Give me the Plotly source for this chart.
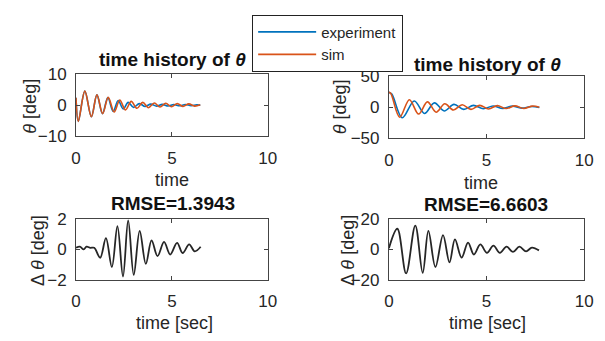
import plotly.graph_objects as go

# ---------------- data ----------------
# top-left: theta time history (experiment / sim), extrema samples
t_exp_L = [0, 0.12, 0.46, 0.80, 1.09, 1.38, 1.66, 1.94, 2.2, 2.46, 2.72, 3.0, 3.3, 3.6,
           3.9, 4.2, 4.5, 4.8, 5.1, 5.4, 5.7, 6.0, 6.3, 6.48]
v_exp_L = [2.4, -5.2, 4.5, -3.7, 3.3, -2.7, 2.4, -2.0, 1.5, -1.2, 0.9, -0.7, 0.5, -0.4,
           0.35, -0.3, 0.25, -0.25, 0.2, -0.2, 0.2, -0.15, 0.1, 0.0]
t_sim_L = [0, 0.12, 0.46, 0.80, 1.09, 1.39, 1.68, 1.99, 2.28, 2.58, 2.88, 3.18, 3.48,
           3.78, 4.08, 4.38, 4.68, 4.98, 5.28, 5.58, 5.88, 6.18, 6.48]
v_sim_L = [2.4, -5.2, 4.5, -3.7, 3.3, -2.7, 2.5, -2.2, 1.6, -1.5, 1.2, -1.0, 0.9,
           -0.8, 0.7, -0.6, 0.6, -0.5, 0.5, -0.4, 0.4, -0.3, 0.1]

# top-right: theta time history (experiment / sim)
t_exp_R = [0, 0.15, 0.68, 1.3, 1.82, 2.33, 2.83, 3.33, 3.83, 4.33, 4.83, 5.33, 5.83,
           6.33, 6.83, 7.3, 7.7]
v_exp_R = [24, 21, -17, 10, -10, 7, -6, 4.5, -3.5, 3, -2.5, 2, -2, 1.8, -1.5, 1.2, -0.5]
t_sim_R = [0, 0.1, 0.55, 1.05, 1.52, 1.97, 2.42, 2.86, 3.3, 3.75, 4.2, 4.65, 5.1, 5.55,
           6.0, 6.45, 6.9, 7.35, 7.7]
v_sim_R = [24, 22, -16, 12, -11, 8.5, -8, 5.5, -4.5, 4, -3.5, 3, -2.8, 2.5, -2.2, 2.2,
           -2, 1.8, 0]

# bottom-left: delta theta
t_d_L = [0, 0.2, 0.4, 0.55, 0.75, 0.95, 1.26, 1.56, 1.87, 2.16, 2.45, 2.72, 3.01, 3.32,
         3.64, 3.94, 4.25, 4.59, 4.91, 5.27, 5.56, 5.9, 6.19, 6.5]
v_d_L = [0.1, 0.17, 0.0, 0.17, 0.1, 0.1, -0.55, 0.73, -1.16, 1.51, -1.77, 1.88, -1.67,
         1.2, -0.95, 0.58, -0.44, 0.48, -0.34, 0.42, -0.24, 0.32, -0.13, 0.17]

# bottom-right: delta theta
t_d_R = [0, 0.43, 0.88, 1.35, 1.73, 2.02, 2.38, 2.77, 3.1, 3.38, 3.72, 4.05, 4.35, 4.68,
         5.02, 5.35, 5.68, 6.02, 6.35, 6.68, 7.02, 7.32, 7.68]
v_d_R = [0.7, 13.4, -15.7, 15.5, -15.3, 12, -11.6, 9.3, -8.5, 6.5, -5.4, 4.4, -3.4, 3.2,
         -2.3, 2.4, -2.3, 1.7, -1.7, 1.7, -1.3, 1.1, -0.7]

x_ticks = [0, 5, 10]
titles_top = ["time history of <i>θ</i>", "time history of <i>θ</i>"]
titles_bottom = ["RMSE=1.3943", "RMSE=6.6603"]

# ---------------- styling ----------------
BLUE = "#0072BD"
ORANGE = "#D95319"
DARK = "#262626"
FONT = "Liberation Sans, Arial, sans-serif"
W, H = 605, 341


def dx(p0, p1):
    return [p0 / W, p1 / W]


def dy(top, bottom):
    return [1 - bottom / H, 1 - top / H]


fig = go.Figure()

fig.add_trace(go.Scatter(x=t_exp_L, y=v_exp_L, mode="lines", name="experiment",
                         line=dict(color=BLUE, width=1.6, shape="spline"),
                         xaxis="x", yaxis="y", showlegend=True))
fig.add_trace(go.Scatter(x=t_sim_L, y=v_sim_L, mode="lines", name="sim",
                         line=dict(color=ORANGE, width=1.6, shape="spline"),
                         xaxis="x", yaxis="y", showlegend=True))
fig.add_trace(go.Scatter(x=t_exp_R, y=v_exp_R, mode="lines", name="experiment",
                         line=dict(color=BLUE, width=1.6, shape="spline"),
                         xaxis="x2", yaxis="y2", showlegend=False))
fig.add_trace(go.Scatter(x=t_sim_R, y=v_sim_R, mode="lines", name="sim",
                         line=dict(color=ORANGE, width=1.6, shape="spline"),
                         xaxis="x2", yaxis="y2", showlegend=False))
fig.add_trace(go.Scatter(x=t_d_L, y=v_d_L, mode="lines", name="delta",
                         line=dict(color=DARK, width=1.8, shape="spline"),
                         xaxis="x3", yaxis="y3", showlegend=False))
fig.add_trace(go.Scatter(x=t_d_R, y=v_d_R, mode="lines", name="delta",
                         line=dict(color=DARK, width=1.8, shape="spline"),
                         xaxis="x4", yaxis="y4", showlegend=False))

axis_common = dict(showline=True, linecolor="#444", linewidth=1, mirror="ticks",
                   ticks="inside", ticklen=4, tickcolor="#444", showgrid=False,
                   zeroline=False, tickfont=dict(family=FONT, size=17, color=DARK))

xdom_L = dx(72.7, 269)
xdom_R = dx(393, 593)

fig.update_layout(
    width=W, height=H, margin=dict(l=0, r=0, t=0, b=0),
    paper_bgcolor="white", plot_bgcolor="white",
    font=dict(family=FONT, color=DARK),
    xaxis=dict(domain=xdom_L, anchor="y", range=[0, 10], tickvals=x_ticks,
               ticklabelstandoff=6, **axis_common),
    yaxis=dict(domain=dy(68.7, 135), anchor="x", range=[-10, 10], tickvals=[-10, 0, 10],
               ticklabelstandoff=5, **axis_common),
    xaxis2=dict(domain=xdom_R, anchor="y2", range=[0, 10], tickvals=x_ticks,
                ticklabelstandoff=6, **axis_common),
    yaxis2=dict(domain=dy(71, 137), anchor="x2", range=[-50, 50], tickvals=[-50, 0, 50],
                ticklabelstandoff=5, **axis_common),
    xaxis3=dict(domain=xdom_L, anchor="y3", range=[0, 10], tickvals=x_ticks,
                ticklabelstandoff=6, **axis_common),
    yaxis3=dict(domain=dy(222, 287), anchor="x3", range=[-2, 2], tickvals=[-2, 0, 2],
                ticklabelstandoff=5, **axis_common),
    xaxis4=dict(domain=xdom_R, anchor="y4", range=[0, 10], tickvals=x_ticks,
                ticklabelstandoff=6, **axis_common),
    yaxis4=dict(domain=dy(222, 287), anchor="x4", range=[-20, 20], tickvals=[-20, 0, 20],
                ticklabelstandoff=5, **axis_common),
    legend=dict(x=253 / W, y=1 - 6 / H, xanchor="left", yanchor="top",
                bgcolor="white", bordercolor="#222", borderwidth=1,
                font=dict(family=FONT, size=15, color=DARK), itemwidth=58,
                tracegroupgap=0),
)


def ann(text, x, y, size=18, angle=0, bold=False):
    t = f"<b>{text}</b>" if bold else text
    fig.add_annotation(text=t, x=x / W, y=1 - y / H, xref="paper", yref="paper",
                       showarrow=False, textangle=angle, xanchor="center",
                       yanchor="middle",
                       font=dict(family=FONT, size=size, color=DARK if not bold else "#111"))


# titles
ann(titles_top[0], 171, 54, size=19, bold=True)
ann(titles_top[1], 494, 59, size=19, bold=True)
ann(titles_bottom[0], 172, 206, size=19, bold=True)
ann(titles_bottom[1], 492, 207, size=19, bold=True)
# x labels
ann("time", 171, 181, size=18)
ann("time", 487, 184, size=18)
ann("time [sec]", 174, 332, size=18)
ann("time [sec]", 494, 332, size=18)
# y labels
ann("<i>θ</i> [deg]", 26, 103, size=18, angle=-90)
ann("<i>θ</i> [deg]", 343, 104, size=18, angle=-90)
ann("Δ <i>θ</i> [deg]", 33, 256, size=18, angle=-90)
ann("Δ <i>θ</i> [deg]", 351, 255, size=18, angle=-90)

fig.write_html("out.html")
